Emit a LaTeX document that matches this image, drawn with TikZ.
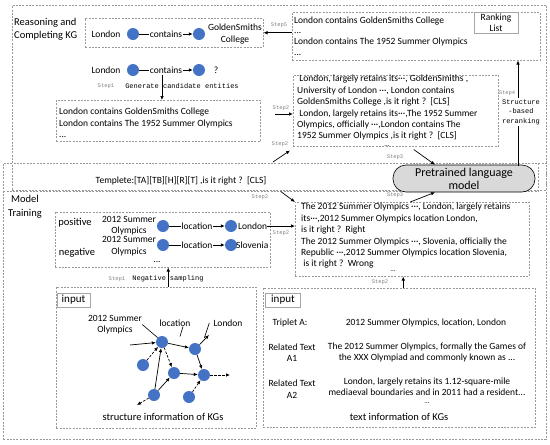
\documentclass[tikz,border=0pt]{standalone}
\usepackage{fontspec}
\setmainfont{Carlito}
\newfontfamily\monofont{Liberation Mono}
\usetikzlibrary{arrows.meta}
\definecolor{entblue}{HTML}{4472C4}

\begin{document}
\begin{tikzpicture}[x=1pt, y=-1pt,
    dbox/.style={draw=gray!80, dash pattern=on 2pt off 1.3pt, line width=0.5pt, inner sep=0pt, anchor=north west},
    sbox/.style={draw=gray!70, line width=0.6pt, inner sep=0pt},
    ent/.style={circle, fill=entblue, inner sep=0pt, minimum size=12pt},
    stp/.style={font=\monofont\fontsize{5.5}{6}\selectfont, text=gray, inner sep=0pt},
    mono/.style={font=\monofont\fontsize{7}{9.5}\selectfont, inner sep=0pt},
    txt/.style={font=\fontsize{9.5}{11.4}\selectfont, inner sep=0pt},
    big/.style={font=\fontsize{10.5}{13}\selectfont, inner sep=0pt},
    dots/.style={font=\fontsize{7}{7}\selectfont, inner sep=0pt},
    arr/.style={-{Latex[length=4pt,width=3.5pt]}, line width=0.7pt},
    darr/.style={arr, dash pattern=on 2.5pt off 1.5pt},
    rel/.style={txt, fill=white, inner sep=1pt}]

    \useasboundingbox (0,0) rectangle (550,445);

    % frames
    \node[dbox, minimum width=534pt, minimum height=185pt] (top) at (12,5) {};
    \node[dbox, minimum width=543pt, minimum height=276pt] (bot) at (3,163) {};
    \node[dbox, minimum width=535pt, minimum height=28pt] (tmpl) at (3,163) {};

    % reasoning and completing
    \node[big, align=left, anchor=west] (rck) at (14,29) {Reasoning and\\Completing KG};
    \node[dbox, minimum width=178pt, minimum height=29pt] (trip) at (85,18) {};
    \node[txt] (lon1) at (106,34) {London};
    \node[ent] (e1) at (133,34) {};
    \node[ent] (e2) at (199,34) {};
    \node[txt, align=center] (gsc) at (235,34) {GoldenSmiths\\College};
    \draw[arr] (e1) -- node[rel] (k1) {contains} (e2);

    \node[dbox, minimum width=248pt, minimum height=48pt] (rank) at (292,12) {};
    \node[txt, align=left, anchor=west, font=\fontsize{9.5}{10.7}\selectfont] (rlist) at (294,36)
        {London contains GoldenSmiths College\\...\\London contains The 1952 Summer Olympics\\...};
    \node[sbox, txt, align=center, minimum width=44pt, minimum height=21pt] (rl) at (496,23) {Ranking\\List};
    \draw[arr] (rank.west |- trip.east) -- (trip.east);
    \node[stp] (s5) at (279,25) {Step5};

    \node[txt] (lon2) at (106,70) {London};
    \node[ent] (e3) at (133,70) {};
    \node[ent] (e4) at (199,70) {};
    \node[txt] (qm) at (216,70) {?};
    \draw[arr] (e3) -- node[rel] (k2) {contains} (e4);

    \node[dbox, minimum width=204pt, minimum height=41pt] (cand) at (56,100) {};
    \node[txt, align=left, anchor=west] (clist) at (59,123)
        {London contains GoldenSmiths College\\London contains The 1952 Summer Olympics\\...};
    \node[stp] (s1a) at (106,86) {Step1};
    \node[mono] (gen) at (182,86) {Generate candidate entities};
    \draw[arr] ([xshift=-4pt]k2.south) -- ([xshift=-4pt]k2.south |- cand.north);

    % prompts
    \node[dbox, minimum width=205pt, minimum height=71pt] (prm) at (293,75) {};
    \node[txt, align=left, anchor=west] (plist) at (297,108)
        {\ London, largely retains its···, GoldenSmiths ,\\
         University of London ···, London contains\\
         GoldenSmiths College ,is it right ?\ \ [CLS]\\
         \ London, largely retains its···,The 1952 Summer\\
         Olympics, officially ···,London contains The\\
         1952 Summer Olympics ,is it right ?\ \ [CLS]};
    \node[dots] (pdots) at (387,146) {...};
    \coordinate (c2p) at (275,114);
    \draw[arr] (c2p) -- (c2p -| prm.west);
    \node[stp] (s2a) at (281,108) {Step2};

    \node[draw, fill=gray!30, line width=0.6pt, rounded corners=13pt, minimum width=142pt, minimum height=27pt,
          inner sep=0pt, font=\fontsize{12}{13}\selectfont, align=center] (plm) at (464,178.5) {Pretrained language\\model};
    \coordinate (s4) at (518,166);
    \draw[arr] (s4) -- (s4 |- rank.south);
    \node[mono, fill=white, align=center, inner sep=1pt] (rer) at (521,112) {Structure\\-based\\reranking};
    \node[stp] (s4l) at (507,93) {Step4};

    \node[txt] (ttext) at (181,181) {Templete:[TA][TB][H][R][T] ,is it right ?\ \ [CLS]};
    \coordinate (t2p) at (273,162);
    \draw[arr] (t2p) -- ([shift={(-3,4)}]prm.south west);
    \node[stp] (s2b) at (280,144) {Step2};
    \draw[arr] ([shift={(18,3)}]prm.south) -- ([xshift=-29pt]plm.north);
    \node[stp] (s3a) at (395,157) {Step3};

    % model training
    \node[big, align=center, font=\fontsize{10.5}{13.5}\selectfont] (mt) at (25,207) {Model\\Training};
    \node[dbox, minimum width=234pt, minimum height=74pt] (train) at (295,202) {};
    \node[txt, align=left, anchor=west] (tlist) at (301,236)
        {The 2012 Summer Olympics ···, London, largely retains\\
         its···,2012 Summer Olympics location London,\\
         is it right ?\ \ Right\\
         The 2012 Summer Olympics ···, Slovenia, officially the\\
         Republic ···,2012 Summer Olympics location Slovenia,\\
         \ is it right ?\ \ Wrong};
    \node[dots] (tdots) at (393,271.5) {...};
    \draw[arr] ([xshift=10pt]tmpl.south) -- (train.north west);
    \node[stp] (s2c) at (260,197) {Step2};
    \draw[arr] ([xshift=-2pt]train.north) -- ([xshift=-29pt]plm.south);
    \node[stp] (s3b) at (395,195) {Step3};

    \node[dbox, minimum width=215pt, minimum height=55pt] (ttrip) at (55,212) {};
    \node[big] (pos) at (75,223) {positive};
    \node[big] (neg) at (77,253) {negative};
    \node[txt, align=center] (o1) at (129,225.5) {2012 Summer\\Olympics};
    \node[txt, align=center] (o2) at (129,246) {2012 Summer\\Olympics};
    \node[ent] (e5) at (163,226) {};
    \node[ent] (e6) at (231,226) {};
    \node[ent] (e7) at (163,245) {};
    \node[ent] (e8) at (231,245) {};
    \draw[arr] (e5) -- node[rel] (k3) {location} (e6);
    \draw[arr] (e7) -- node[rel] (k4) {location} (e8);
    \node[txt, anchor=west] (lon3) at (238,226) {London};
    \node[txt, anchor=west] (slo) at (236,245) {Slovenia};
    \node[txt] (odots) at (157,262) {...};
    \draw[arr] (lon3.east) -- (lon3.east -| train.west);
    \node[stp] (s2d) at (281,233) {Step2};

    % structure input
    \node[dbox, minimum width=200pt, minimum height=141pt] (strc) at (56,287) {};
    \draw[arr] ([xshift=12pt]strc.north) -- ([xshift=12pt]strc.north |- ttrip.south);
    \node[stp] (s1b) at (117,279) {Step1};
    \node[mono] (negs) at (168,279) {Negative\hspace{4pt}sampling};
    \node[sbox, minimum width=33pt, minimum height=14pt, font=\fontsize{11}{12}\selectfont] (in1) at (73.5,300) {input};

    \node[ent] (gA) at (162,342) {};
    \node[ent] (gB) at (195,349) {};
    \node[ent] (gC) at (143,365) {};
    \node[ent] (gD) at (174,373) {};
    \node[ent] (gE) at (204,375) {};
    \node[ent] (gF) at (154,395) {};
    \node[ent] (gG) at (189,397) {};
    \coordinate (gin) at (130,345);
    \coordinate (gout1) at (209,335);
    \coordinate (gout2) at (230,375);
    \coordinate (gout3) at (137,405);
    \draw[arr] (gin) -- (gA);
    \draw[arr] (gA) -- (gB);
    \draw[arr] (gB) -- (gout1);
    \draw[arr] (gB) -- (gE);
    \draw[arr] (gD) -- (gE);
    \draw[arr] (gF) -- (gA);
    \draw[arr] (gF) -- (gD);
    \draw[darr] (gA) -- (gD);
    \draw[darr] (gC) -- (gA);
    \draw[darr] (gG) -- (gE);
    \draw[darr] (gE) -- (gout2);
    \draw[darr] (gF) -- (gout3);

    \node[txt, align=center] (lo) at (115,324.5) {2012 Summer\\Olympics};
    \node[txt] (ll) at (175,323) {location};
    \node[txt] (lL) at (228,323) {London};
    \draw[line width=0.6pt] (lo.east) -- (gA.north west);
    \draw[line width=0.6pt] ([xshift=8pt]ll.south) -- ++(-3,10);
    \draw[line width=0.6pt] ([xshift=-4pt]lL.west) -- ++(-5,15);
    \node[txt, font=\fontsize{10.5}{12}\selectfont] (sinfo) at (163,417) {structure information of KGs};

    % text input
    \node[dbox, minimum width=272pt, minimum height=139pt] (tinp) at (263,288) {};
    \node[sbox, minimum width=35pt, minimum height=14pt, font=\fontsize{11}{12}\selectfont] (in2) at (283,300) {input};
    \draw[arr] ([xshift=4pt]tinp.north) -- ([xshift=4pt]tinp.north |- train.south);
    \node[stp] (s2e) at (380,282) {Step2};

    \node[txt] (tA) at (290,323) {Triplet A:};
    \node[txt] (tAv) at (426,323) {2012 Summer Olympics, location, London};
    \node[txt, align=center] (rA1) at (292,352.5) {Related Text\\A1};
    \node[txt, align=center] (rA1v) at (427,352.5)
        {The 2012 Summer Olympics, formally the Games of\\the XXX Olympiad and commonly known as ...};
    \node[txt, align=center] (rA2) at (292,389) {Related Text\\A2};
    \node[txt, align=center] (rA2v) at (427,386.5)
        {London, largely retains its 1.12-square-mile\\mediaeval boundaries and in 2011 had a resident...};
    \node[dots] (tdots2) at (427,403) {...};
    \node[txt, font=\fontsize{10.5}{12}\selectfont] (tinfo) at (399,417) {text information of KGs};

\end{tikzpicture}
\end{document}
